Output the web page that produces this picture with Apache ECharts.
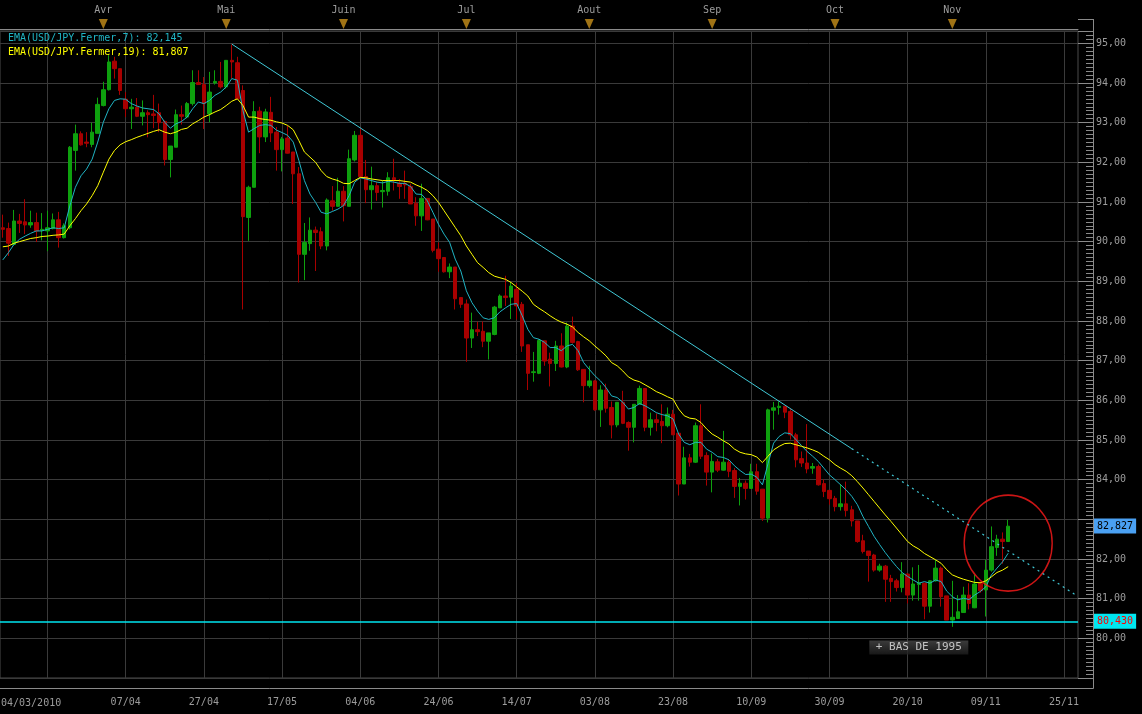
<!DOCTYPE html>
<html><head><meta charset="utf-8">
<script src="https://cdn.jsdelivr.net/npm/echarts@6/dist/echarts.min.js"></script>
<style>html,body{margin:0;padding:0;background:#000;}#c{width:1142px;height:714px;}</style>
</head><body><div id="c"></div>
<script>
// ---- data ----
const startDate = [2010, 2, 8];      // first visible trading day (Mar 8 2010)
const futureDays = 12;               // empty calendar days after the last candle
const firstDateLabel = '04/03/2010';
const monthNames = ['Jan','Fév','Mar','Avr','Mai','Juin','Jul','Aout','Sep','Oct','Nov','Déc'];
// [open, high, low, close]
const candles = [
[90.35,90.68,90.10,90.31],[90.33,90.48,89.64,89.96],[89.93,90.80,89.91,90.52],[90.52,90.70,90.22,90.46],
[90.50,91.07,90.19,90.42],[90.42,90.78,90.35,90.48],[90.48,90.73,89.99,90.27],[90.29,90.72,90.03,90.31],
[90.27,90.78,89.76,90.35],[90.33,90.71,90.31,90.55],[90.55,90.75,89.85,90.10],[90.10,90.46,90.08,90.40],
[90.35,92.41,90.31,92.38],[92.30,92.95,91.79,92.72],[92.72,92.78,92.42,92.44],[92.51,92.76,92.38,92.48],
[92.45,93.00,92.38,92.76],[92.73,93.63,92.73,93.46],[93.43,94.03,93.41,93.83],[93.83,94.70,93.81,94.53],
[94.55,94.66,94.11,94.36],[94.36,94.36,93.70,93.81],[93.59,93.77,93.14,93.35],[93.35,93.60,92.84,93.39],
[93.39,93.62,93.14,93.16],[93.16,93.56,92.93,93.25],[93.25,93.31,92.63,93.20],[93.22,93.70,92.86,93.18],
[93.25,93.48,92.76,93.00],[93.03,93.05,91.92,92.07],[92.07,92.41,91.62,92.41],[92.38,93.33,92.38,93.20],
[93.20,93.43,92.95,93.16],[93.14,93.52,93.11,93.48],[93.48,94.32,93.43,94.01],[94.01,94.32,93.96,93.96],
[93.96,94.15,92.84,93.48],[93.22,94.28,93.01,93.77],[94.00,94.32,93.96,94.04],[94.04,94.53,93.86,93.90],
[93.90,94.57,93.86,94.57],[94.57,94.97,94.11,94.53],[94.51,94.66,93.60,93.60],[93.81,93.94,88.29,90.63],
[90.61,91.41,90.02,91.37],[91.37,93.54,91.37,93.28],[93.29,93.40,92.23,92.64],[92.64,93.35,92.51,93.27],
[93.26,93.65,92.51,92.74],[92.76,92.89,91.79,92.32],[92.32,92.64,91.77,92.59],[92.61,92.93,92.22,92.23],
[92.26,92.26,90.95,91.71],[91.71,91.88,88.97,89.68],[89.68,90.47,89.03,89.98],[89.95,90.61,89.77,90.29],
[90.29,90.38,89.26,90.23],[90.25,90.36,89.81,89.89],[89.89,91.09,89.78,91.05],[91.03,91.40,90.78,90.89],
[90.89,91.61,90.88,91.27],[91.27,91.40,90.51,90.91],[90.89,92.32,90.89,92.09],[92.06,92.79,92.02,92.68],
[92.68,92.86,91.62,91.64],[91.64,92.06,90.97,91.31],[91.31,91.89,90.81,91.41],[91.41,91.50,91.03,91.24],
[91.26,91.54,90.86,91.29],[91.27,91.75,91.16,91.61],[91.61,92.09,91.29,91.56],[91.47,91.58,91.08,91.39],
[91.47,91.79,91.08,91.43],[91.39,91.46,90.95,90.95],[90.97,91.12,90.40,90.65],[90.65,91.46,90.27,91.09],
[91.09,91.09,90.54,90.55],[90.57,90.57,89.73,89.78],[89.81,89.98,89.24,89.57],[89.60,89.60,89.22,89.24],
[89.24,89.45,89.08,89.36],[89.36,89.36,88.29,88.56],[88.59,88.59,88.33,88.42],[88.43,88.54,86.97,87.57],
[87.57,88.21,87.32,87.78],[87.78,87.98,87.62,87.73],[87.74,87.99,87.34,87.49],[87.49,87.70,87.03,87.70],
[87.66,88.38,87.64,88.35],[88.33,88.67,88.33,88.63],[88.63,89.14,88.38,88.59],[88.60,88.98,88.05,88.88],
[88.80,88.95,88.04,88.38],[88.42,88.48,87.22,87.37],[87.40,87.40,86.26,86.68],[86.70,87.22,86.47,86.72],
[86.68,87.54,86.66,87.51],[87.50,87.50,86.87,86.99],[87.04,87.20,86.35,86.93],[86.93,87.50,86.74,87.37],
[87.37,87.69,86.83,86.84],[86.84,87.96,86.81,87.87],[87.87,88.11,87.43,87.46],[87.48,87.50,86.74,86.77],
[86.78,86.78,85.95,86.37],[86.37,86.87,86.32,86.49],[86.49,86.51,85.74,85.76],[85.76,86.38,85.33,86.26],
[86.26,86.42,85.69,85.80],[85.82,85.97,85.04,85.38],[85.38,85.95,85.32,85.95],[85.95,86.24,85.40,85.42],
[85.44,85.47,84.73,85.32],[85.32,85.90,84.94,85.90],[85.90,86.37,85.89,86.30],[86.30,86.30,85.22,85.32],
[85.32,85.69,85.11,85.51],[85.51,85.67,85.22,85.44],[85.47,85.90,84.92,85.36],[85.36,85.82,85.32,85.65],
[85.65,85.76,85.13,85.13],[85.17,85.17,83.60,83.89],[83.89,84.83,83.89,84.55],[84.55,84.65,84.33,84.44],
[84.44,85.44,84.42,85.36],[85.36,85.90,84.52,84.59],[84.61,84.69,83.85,84.19],[84.19,84.66,83.68,84.46],
[84.45,84.52,84.19,84.24],[84.24,85.23,84.23,84.44],[84.44,84.52,84.06,84.21],[84.23,84.29,83.54,83.83],
[83.83,84.04,83.35,83.91],[83.91,83.98,83.50,83.78],[83.78,84.40,83.77,84.20],[84.20,84.40,83.62,83.71],
[83.76,83.76,82.96,83.03],[83.03,85.79,82.92,85.76],[85.75,85.96,85.26,85.81],[85.82,85.97,85.64,85.85],
[85.85,85.85,85.55,85.70],[85.72,85.78,85.01,85.13],[85.13,85.18,84.31,84.50],[84.53,84.71,84.32,84.42],
[84.42,85.40,84.16,84.27],[84.29,84.42,84.15,84.33],[84.33,84.38,83.85,83.87],[83.90,84.01,83.56,83.70],
[83.73,83.73,83.37,83.52],[83.53,83.59,83.20,83.32],[83.32,83.89,83.22,83.39],[83.39,83.95,83.07,83.22],
[83.24,83.34,82.82,82.96],[82.96,82.96,82.41,82.44],[82.46,82.61,82.14,82.19],[82.20,82.20,81.43,82.09],
[82.10,82.13,81.68,81.72],[81.72,81.88,81.68,81.82],[81.82,81.85,80.92,81.49],[81.51,81.60,80.92,81.43],
[81.45,81.50,81.18,81.28],[81.28,81.92,81.16,81.62],[81.62,81.64,80.88,81.09],[81.09,81.79,80.95,81.37],
[81.36,81.85,80.95,81.39],[81.39,81.40,80.48,80.81],[80.81,81.47,80.65,81.45],[81.45,81.98,81.43,81.77],
[81.77,81.81,80.80,81.05],[81.07,81.07,80.46,80.46],[80.46,81.45,80.29,80.53],[80.50,81.09,80.50,80.67],
[80.65,81.30,80.65,81.09],[81.09,81.39,80.73,80.88],[80.77,81.60,80.76,81.37],[81.39,81.43,81.15,81.20],
[81.22,81.98,80.55,81.72],[81.72,82.82,81.68,82.31],[82.29,82.61,82.08,82.50],[82.50,82.67,81.88,82.44],
[82.44,82.99,82.44,82.827]
];
const ema7 = [
89.54,89.72,89.93,90.06,90.14,90.21,90.27,90.27,90.31,90.35,90.33,90.35,90.90,91.37,91.66,91.83,92.08,92.51,93.01,93.35,
93.56,93.60,93.59,93.48,93.42,93.37,93.35,93.33,93.22,93.01,92.86,92.97,93.03,93.14,93.35,93.52,93.48,93.56,93.69,93.77,
93.90,94.11,94.07,93.30,92.76,92.85,92.93,92.95,92.93,92.81,92.75,92.68,92.51,92.05,91.54,91.20,90.99,90.74,90.70,90.76,
90.82,90.91,91.16,91.50,91.61,91.58,91.54,91.50,91.48,91.52,91.50,91.47,91.47,91.39,91.20,91.19,91.03,90.74,90.44,90.19,
89.98,89.56,89.26,88.76,88.46,88.25,88.08,88.04,88.08,88.23,88.33,88.42,88.44,88.13,87.79,87.58,87.54,87.46,87.33,87.33,
87.25,87.37,87.41,87.25,86.95,86.78,86.62,86.49,86.32,86.11,86.07,85.95,85.78,85.82,85.92,85.86,85.78,85.69,85.64,85.61,
85.53,85.15,84.94,84.88,84.94,84.94,84.77,84.69,84.58,84.56,84.50,84.35,84.23,84.13,84.14,84.06,83.87,84.40,84.92,85.09,
85.18,85.16,85.01,84.86,84.71,84.59,84.46,84.29,84.12,84.00,83.87,83.74,83.58,83.37,83.07,82.82,82.57,82.36,82.16,81.98,
81.81,81.66,81.56,81.47,81.39,81.43,81.39,81.47,81.43,81.19,81.05,80.97,81.01,80.98,81.09,81.18,81.30,81.60,81.77,81.93,
82.145
];
const ema19 = [
89.87,89.89,89.96,90.00,90.04,90.08,90.10,90.13,90.14,90.16,90.17,90.19,90.40,90.58,90.78,90.95,91.16,91.41,91.75,92.08,
92.30,92.44,92.52,92.57,92.63,92.68,92.73,92.78,92.82,92.76,92.72,92.76,92.83,92.86,92.97,93.05,93.14,93.20,93.27,93.33,
93.43,93.54,93.60,93.43,93.14,93.14,93.10,93.08,93.06,93.02,92.99,92.93,92.82,92.55,92.26,92.13,92.00,91.79,91.64,91.58,
91.54,91.47,91.46,91.54,91.62,91.61,91.58,91.56,91.54,91.54,91.54,91.54,91.52,91.50,91.43,91.37,91.29,91.16,90.99,90.78,
90.57,90.36,90.15,89.89,89.68,89.47,89.35,89.22,89.13,89.09,89.05,88.97,88.86,88.75,88.63,88.42,88.32,88.23,88.13,88.04,
87.97,87.92,87.85,87.71,87.60,87.50,87.37,87.25,87.12,86.95,86.87,86.74,86.59,86.51,86.47,86.39,86.31,86.22,86.16,86.09,
86.03,85.78,85.61,85.55,85.53,85.44,85.28,85.15,85.07,84.98,84.90,84.77,84.69,84.65,84.63,84.57,84.43,84.59,84.75,84.84,
84.91,84.92,84.88,84.84,84.80,84.75,84.69,84.59,84.50,84.38,84.29,84.21,84.10,83.95,83.79,83.62,83.45,83.28,83.11,82.95,
82.78,82.61,82.44,82.33,82.25,82.14,82.06,81.98,81.89,81.73,81.60,81.54,81.49,81.45,81.41,81.40,81.45,81.55,81.66,81.72,
81.807
];
const ema7Label = 'EMA(USD/JPY.Fermer,7): 82,145';
const ema19Label = 'EMA(USD/JPY.Fermer,19): 81,807';
const supportLevel = 80.430;
const lastPrice = 82.827;
// trend line anchors: [candle index, price]
const trendStart = [41, 94.98];
const trendBreak = [152, 84.78];
const trendEnd = [192, 81.10];
const circleAt = [180, 82.40];
const noteText = '+ BAS DE 1995';
const noteAt = [164, 79.77];
const yMin = 79, yMax = 95.31, yStep = 1;
const majorStart = 8, majorStep = 14;

// ---- categories (trading days, then calendar days) ----
const pad = n => (n < 10 ? '0' : '') + n;
const fmt = d => pad(d.getUTCDate()) + '/' + pad(d.getUTCMonth() + 1);
const dayList = [];
let d = new Date(Date.UTC(startDate[0], startDate[1], startDate[2]));
while (dayList.length < candles.length) {
  const wd = d.getUTCDay();
  if (wd !== 0 && wd !== 6) dayList.push(new Date(d.getTime()));
  d.setUTCDate(d.getUTCDate() + 1);
}
d = new Date(dayList[dayList.length - 1].getTime());
for (let k = 0; k < futureDays; k++) { d.setUTCDate(d.getUTCDate() + 1); dayList.push(new Date(d.getTime())); }
const cats = dayList.map(fmt);
const monthStart = {};
for (let i = 1; i < candles.length; i++) {
  if (dayList[i].getUTCMonth() !== dayList[i - 1].getUTCMonth()) monthStart[i] = monthNames[dayList[i].getUTCMonth()];
}

const isMajor = i => i >= majorStart && (i - majorStart) % majorStep === 0;
const FONT = 'DejaVu Sans Mono';
const GRAY = '#9c9c9c';
const AXIS = '#8a8a8a';
const GRID = '#3a3a3a';
const UP = '#0ea00e', DOWN = '#a80000';
const hiddenByTag = v => Math.abs(v - lastPrice) < 0.3 || Math.abs(v - supportLevel) < 0.3;

const chart = echarts.init(document.getElementById('c'), null, {renderer: 'canvas'});
chart.setOption({
  backgroundColor: '#000',
  animation: false,
  title: [
    {text: ema7Label, left: 8, top: 33, padding: 0, textStyle: {color: '#20b4c4', fontSize: 10, fontFamily: FONT, fontWeight: 'normal'}},
    {text: ema19Label, left: 8, top: 47, padding: 0, textStyle: {color: '#ffff00', fontSize: 10, fontFamily: FONT, fontWeight: 'normal'}}
  ],
  graphic: [
    {type: 'text', left: 1, top: 698, style: {text: firstDateLabel, fill: GRAY, font: '10px "' + FONT + '"'}},
    {type: 'line', silent: true, shape: {x1: 1093.5, y1: 19, x2: 1093.5, y2: 688.5}, style: {stroke: AXIS, lineWidth: 1}},
    {type: 'line', silent: true, shape: {x1: 1078, y1: 688.5, x2: 1093.5, y2: 688.5}, style: {stroke: AXIS, lineWidth: 1}},
    {type: 'line', silent: true, shape: {x1: 1078, y1: 19.5, x2: 1093.5, y2: 19.5}, style: {stroke: AXIS, lineWidth: 1}}
  ],
  grid: [
    {left: 0, right: 64, top: 31, bottom: 36, show: true, borderColor: '#4a4a4a', borderWidth: 1, backgroundColor: 'transparent'},
    {left: 0, right: 64, top: 19, height: 10}
  ],
  xAxis: [
    {type: 'category', gridIndex: 0, data: cats, position: 'bottom', offset: 10, boundaryGap: true,
     axisLine: {lineStyle: {color: AXIS}},
     axisTick: {alignWithLabel: true, inside: true, length: 10, interval: i => isMajor(i), lineStyle: {color: AXIS}},
     axisLabel: {interval: i => i > majorStart && isMajor(i), color: GRAY, fontFamily: FONT, fontSize: 10, margin: 9},
     splitLine: {show: true, alignWithLabel: true, interval: i => isMajor(i), lineStyle: {color: GRID}}},
    {type: 'category', gridIndex: 0, data: cats, position: 'bottom', offset: 10, boundaryGap: true,
     axisLine: {show: false},
     axisTick: {alignWithLabel: true, inside: true, length: 5, interval: i => i % 2 === 0, lineStyle: {color: AXIS}},
     axisLabel: {show: false}, splitLine: {show: false}},
    {type: 'category', gridIndex: 1, data: cats, position: 'top', boundaryGap: true,
     axisLine: {lineStyle: {color: AXIS}},
     axisTick: {alignWithLabel: true, inside: true, length: 5, interval: i => i % 3 === 0, lineStyle: {color: AXIS}},
     axisLabel: {interval: i => monthStart[i] !== undefined, formatter: (v, i) => monthStart[i] || '', color: GRAY, fontFamily: FONT, fontSize: 10, margin: 4},
     splitLine: {show: false}}
  ],
  yAxis: [
    {type: 'value', gridIndex: 0, position: 'right', offset: 15, min: yMin, max: yMax, interval: yStep, scale: true,
     axisLine: {show: true, lineStyle: {color: AXIS}},
     axisTick: {show: true, inside: true, length: 15, lineStyle: {color: AXIS}},
     minorTick: {show: true, splitNumber: 10, length: 7, lineStyle: {color: AXIS}},
     axisLabel: {showMinLabel: false, showMaxLabel: false, margin: 3, color: GRAY, fontFamily: FONT, fontSize: 10,
       formatter: v => (Math.abs(v - Math.round(v)) < 1e-6 && !hiddenByTag(v) ? v.toFixed(2).replace('.', ',') : '')},
     splitLine: {show: true, lineStyle: {color: GRID}}},
    {type: 'value', gridIndex: 1, min: 0, max: 1, show: false}
  ],
  series: [
    {type: 'candlestick', name: 'USD/JPY', xAxisIndex: 0, yAxisIndex: 0, barWidth: 4,
     data: candles.map(c => [c[0], c[3], c[2], c[1]]),
     itemStyle: {color: UP, color0: DOWN, borderColor: UP, borderColor0: DOWN, borderWidth: 1},
     markLine: {silent: true, symbol: ['none', 'none'], animation: false,
       data: [
         {yAxis: supportLevel, lineStyle: {color: '#00e6f0', width: 1.5, type: 'solid'},
          label: {show: true, position: 'end', distance: 16, formatter: supportLevel.toFixed(3).replace('.', ','),
                  color: '#ff0000', backgroundColor: '#00e6f0', padding: [3, 3, 2, 3], fontFamily: FONT, fontSize: 10}},
         {yAxis: lastPrice, lineStyle: {color: 'rgba(0,0,0,0)', width: 1},
          label: {show: true, position: 'end', distance: 16, formatter: lastPrice.toFixed(3).replace('.', ','),
                  color: '#000', backgroundColor: '#4aa0f2', padding: [3, 3, 2, 3], fontFamily: FONT, fontSize: 10}},
         [{coord: [cats[trendStart[0]], trendStart[1]], lineStyle: {color: '#40c8d6', width: 1, type: 'solid'}, label: {show: false}},
          {coord: [cats[trendBreak[0]], trendBreak[1]]}],
         [{coord: [cats[trendBreak[0]], trendBreak[1]], lineStyle: {color: '#40c8d6', width: 1.2, type: [2, 4]}, label: {show: false}},
          {coord: [cats[trendEnd[0]], trendEnd[1]]}]
       ]}},
    {type: 'line', name: 'EMA7', xAxisIndex: 0, yAxisIndex: 0, data: ema7, showSymbol: false, symbol: 'none',
     lineStyle: {color: '#20b4c4', width: 1}, z: 3},
    {type: 'line', name: 'EMA19', xAxisIndex: 0, yAxisIndex: 0, data: ema19, showSymbol: false, symbol: 'none',
     lineStyle: {color: '#ffff00', width: 1}, z: 3},
    {type: 'scatter', xAxisIndex: 0, yAxisIndex: 0, symbol: 'circle', symbolSize: [88, 96], silent: true, z: 4,
     data: [[cats[circleAt[0]], circleAt[1]]],
     itemStyle: {color: 'rgba(0,0,0,0)', borderColor: '#ff1a1a', borderWidth: 1.5}},
    {type: 'scatter', xAxisIndex: 0, yAxisIndex: 0, symbol: 'rect', symbolSize: [99, 14], silent: true, z: 4,
     data: [[cats[noteAt[0]], noteAt[1]]],
     itemStyle: {color: new echarts.graphic.LinearGradient(0, 0, 0, 1, [{offset: 0, color: '#4a4a4a'}, {offset: 1, color: '#1e1e1e'}])},
     label: {show: true, position: 'inside', formatter: noteText, color: '#e6e6e6', fontFamily: FONT, fontSize: 11}},
    {type: 'scatter', xAxisIndex: 2, yAxisIndex: 1, symbol: 'triangle', symbolRotate: 180, symbolSize: [9, 10], silent: true,
     data: Object.keys(monthStart).map(i => [cats[+i], 0.5]),
     itemStyle: {color: '#c8901a'}}
  ]
});
</script></body></html>
